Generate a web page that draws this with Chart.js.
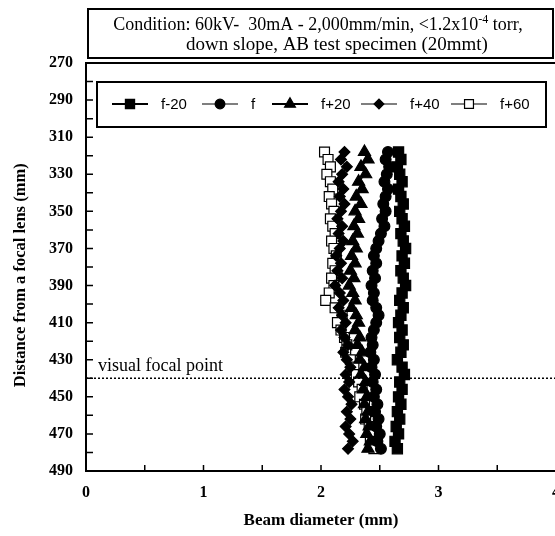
<!DOCTYPE html>
<html>
<head>
<meta charset="utf-8">
<script src="https://cdn.jsdelivr.net/npm/chart.js@4.4.0/dist/chart.umd.min.js"></script>
<style>
  html, body { margin: 0; padding: 0; background: #fff; overflow: hidden; width: 555px; height: 536px; }
  canvas { display: block; }
</style>
</head>
<body>
<canvas id="beam" width="566" height="536"></canvas>
<script>
// ── Data ────────────────────────────────────────────────────────────────────
const DEPTH_MM = [318, 322, 326, 330, 334, 338, 342, 346, 350, 354, 358, 362, 366, 370,
  374, 378, 382, 386, 390, 394, 398, 402, 406, 410, 414, 418, 422, 426, 430, 434, 438,
  442, 446, 450, 454, 458, 462, 466, 470, 474, 478];

const F_MINUS_20 = [2.66, 2.68, 2.65, 2.67, 2.69, 2.66, 2.68, 2.70, 2.67, 2.69, 2.71, 2.68,
  2.70, 2.72, 2.69, 2.71, 2.68, 2.70, 2.72, 2.69, 2.67, 2.70, 2.68, 2.66, 2.69, 2.67, 2.70,
  2.68, 2.65, 2.69, 2.71, 2.67, 2.69, 2.66, 2.68, 2.65, 2.67, 2.64, 2.66, 2.63, 2.65];
const F_ZERO = [2.57, 2.55, 2.58, 2.56, 2.54, 2.57, 2.55, 2.53, 2.55, 2.52, 2.54, 2.51,
  2.49, 2.47, 2.45, 2.47, 2.44, 2.46, 2.43, 2.45, 2.44, 2.47, 2.49, 2.47, 2.45, 2.43, 2.44,
  2.42, 2.45, 2.43, 2.46, 2.44, 2.47, 2.45, 2.48, 2.46, 2.49, 2.47, 2.50, 2.48, 2.51];
const F_PLUS_20 = [2.37, 2.40, 2.34, 2.38, 2.32, 2.35, 2.30, 2.34, 2.29, 2.32, 2.28, 2.31,
  2.27, 2.30, 2.26, 2.29, 2.25, 2.28, 2.24, 2.27, 2.29, 2.26, 2.30, 2.32, 2.29, 2.33, 2.31,
  2.35, 2.33, 2.37, 2.34, 2.38, 2.36, 2.39, 2.37, 2.40, 2.38, 2.41, 2.39, 2.42, 2.40];
const F_PLUS_40 = [2.20, 2.17, 2.22, 2.18, 2.15, 2.19, 2.16, 2.20, 2.17, 2.14, 2.18, 2.15,
  2.19, 2.16, 2.13, 2.17, 2.14, 2.18, 2.12, 2.16, 2.19, 2.15, 2.18, 2.21, 2.17, 2.20, 2.23,
  2.19, 2.22, 2.25, 2.21, 2.24, 2.20, 2.23, 2.26, 2.22, 2.25, 2.21, 2.24, 2.27, 2.23];
const F_PLUS_60 = [2.03, 2.06, 2.08, 2.05, 2.08, 2.10, 2.07, 2.09, 2.11, 2.08, 2.10, 2.12,
  2.09, 2.11, 2.13, 2.10, 2.12, 2.09, 2.11, 2.07, 2.04, 2.12, 2.18, 2.14, 2.17, 2.20, 2.22,
  2.21, 2.25, 2.28, 2.30, 2.32, 2.35, 2.33, 2.37, 2.39, 2.38, 2.41, 2.43, 2.42, 2.45];

const SERIES_LABELS = ["f-20", "f", "f+20", "f+40", "f+60"];
const FOCAL_POINT_MM = 440;
const Y_MIN = 270, Y_MAX = 490, Y_LABEL_STEP = 20, Y_MINOR_STEP = 10;
const X_MIN = 0, X_MAX = 4, X_LABEL_STEP = 1, X_MINOR_STEP = 0.5;
const TITLE_LINE_1 = ["Condition: 60kV-\u00a0\u00a030mA - 2,000mm/min, <1.2x10", "-4", " torr,"];
const TITLE_LINE_2 = "down slope, AB test specimen (20mmt)";

// ── Marker styles, one per series ───────────────────────────────────────────
const MARKERS = [
  { pointStyle: "rect",     radius: 7.2, fill: "#000" },
  { pointStyle: "circle",   radius: 5.4, fill: "#000" },
  { pointStyle: "triangle", radius: 7.0, fill: "#000" },
  { pointStyle: "rectRot",  radius: 5.4, fill: "#000" },
  { pointStyle: "rect",     radius: 7.0, fill: "#fff" },
];

const SERF = '"Liberation Serif", "Times New Roman", serif';

function toPoints(values) {
  return values.map((v, i) => ({ x: v, y: DEPTH_MM[i] }));
}

const seriesValues = [F_MINUS_20, F_ZERO, F_PLUS_20, F_PLUS_40, F_PLUS_60];
const datasets = seriesValues.map((vals, i) => ({
  label: SERIES_LABELS[i],
  data: toPoints(vals),
  showLine: true,
  borderColor: "#000",
  borderWidth: 1.2,
  pointStyle: MARKERS[i].pointStyle,
  pointRadius: MARKERS[i].radius,
  pointBackgroundColor: MARKERS[i].fill,
  pointBorderColor: "#000",
  pointBorderWidth: 1.2,
}));

// ── Legend markers use the same shapes as the data ──────────────────────────
function drawMarker(ctx, m, x, y, r) {
  ctx.save();
  ctx.fillStyle = m.fill;
  ctx.strokeStyle = "#000";
  ctx.lineWidth = 1.2;
  if (Chart.helpers && Chart.helpers.drawPoint) {
    Chart.helpers.drawPoint(ctx, { pointStyle: m.pointStyle, radius: r, rotation: 0, borderWidth: 1.2 }, x, y);
  }
  ctx.restore();
}

// ── Plugin: frame, inward ticks, focal line, title box, legend box ─────────
const decorations = {
  id: "decorations",
  afterDatasetsDraw(chart) {
    const { ctx, chartArea: a, scales } = chart;
    const xs = scales.x, ys = scales.y;
    ctx.save();

    // frame
    ctx.strokeStyle = "#000";
    ctx.lineWidth = 2;
    ctx.strokeRect(a.left, a.top, a.right - a.left, a.bottom - a.top);

    // inward ticks
    ctx.lineWidth = 1.5;
    ctx.beginPath();
    for (let v = Y_MIN; v <= Y_MAX; v += Y_MINOR_STEP) {
      const py = ys.getPixelForValue(v);
      ctx.moveTo(a.left, py); ctx.lineTo(a.left + 7, py);
    }
    for (let v = X_MIN; v <= X_MAX; v += X_MINOR_STEP) {
      const px = xs.getPixelForValue(v);
      ctx.moveTo(px, a.bottom); ctx.lineTo(px, a.bottom - 6);
    }
    ctx.stroke();

    // visual focal point
    const fy = ys.getPixelForValue(FOCAL_POINT_MM);
    ctx.lineWidth = 1.5;
    ctx.setLineDash([2, 2]);
    ctx.beginPath();
    ctx.moveTo(a.left, fy); ctx.lineTo(a.right, fy);
    ctx.stroke();
    ctx.setLineDash([]);
    ctx.fillStyle = "#000";
    ctx.font = "18px " + SERF;
    ctx.textBaseline = "alphabetic";
    ctx.textAlign = "left";
    ctx.fillText("visual focal point", a.left + 12, fy - 7);

    // title box above the plot
    ctx.lineWidth = 2;
    ctx.strokeRect(a.left + 2, 9, 465, 49);
    const mainFont = "18px " + SERF, supFont = "12px " + SERF;
    ctx.font = mainFont;
    const w0 = ctx.measureText(TITLE_LINE_1[0]).width;
    const w2 = ctx.measureText(TITLE_LINE_1[2]).width;
    ctx.font = supFont;
    const w1 = ctx.measureText(TITLE_LINE_1[1]).width;
    const tx = a.left + 232 - (w0 + w1 + w2) / 2;
    ctx.font = mainFont;
    ctx.fillText(TITLE_LINE_1[0], tx, 30);
    ctx.font = supFont;
    ctx.fillText(TITLE_LINE_1[1], tx + w0, 23);
    ctx.font = mainFont;
    ctx.fillText(TITLE_LINE_1[2], tx + w0 + w1, 30);
    ctx.textAlign = "center";
    ctx.font = "19px " + SERF;
    ctx.fillText(TITLE_LINE_2, a.left + 251, 50);

    // legend box inside the plot
    const lx = a.left + 11, ly = a.top + 19;
    ctx.fillStyle = "#fff";
    ctx.fillRect(lx, ly, 449, 45);
    ctx.lineWidth = 2;
    ctx.strokeRect(lx, ly, 449, 45);
    const centres = [44, 134, 204, 293, 383];
    const my = ly + 22;
    ctx.font = '15px "Liberation Sans", Arial, sans-serif';
    ctx.textAlign = "left";
    ctx.textBaseline = "middle";
    SERIES_LABELS.forEach((lab, i) => {
      const cx = a.left + centres[i];
      ctx.strokeStyle = "#000";
      ctx.lineWidth = i === 0 || i === 2 ? 2 : 1.2;
      ctx.beginPath();
      ctx.moveTo(cx - 18, my); ctx.lineTo(cx + 18, my);
      ctx.stroke();
      drawMarker(ctx, MARKERS[i], cx, my, MARKERS[i].radius * 0.9);
      ctx.fillStyle = "#000";
      ctx.fillText(lab, cx + 31, my + 1);
    });

    ctx.restore();
  },
};

new Chart(document.getElementById("beam"), {
  type: "scatter",
  data: { datasets },
  plugins: [decorations],
  options: {
    responsive: false,
    animation: false,
    devicePixelRatio: 1,
    layout: { padding: { top: 63, right: 10, left: 0, bottom: 0 } },
    plugins: { legend: { display: false }, tooltip: { enabled: false } },
    scales: {
      x: {
        type: "linear",
        min: X_MIN, max: X_MAX,
        grid: { display: false, drawTicks: false },
        border: { display: false },
        ticks: { stepSize: X_LABEL_STEP, color: "#000", padding: 12,
                 font: { family: SERF, size: 16, weight: "bold" } },
        title: { display: true, text: "Beam diameter (mm)", color: "#000",
                 padding: { top: 4, bottom: 5 },
                 font: { family: SERF, size: 17, weight: "bold" } },
        afterFit(scale) {
          scale.height = 65;
          scale.paddingLeft = 0;
          scale.paddingRight = 0;
        },
      },
      y: {
        type: "linear",
        reverse: true,
        min: Y_MIN, max: Y_MAX,
        grid: { display: false, drawTicks: false },
        border: { display: false },
        ticks: { stepSize: Y_LABEL_STEP, color: "#000", padding: 13,
                 font: { family: SERF, size: 16, weight: "bold" } },
        title: { display: true, text: "Distance from a focal lens (mm)\u00a0\u00a0\u00a0\u00a0", color: "#000",
                 padding: { top: 11, bottom: 4 },
                 font: { family: SERF, size: 16.5, weight: "bold" } },
        afterFit(scale) {
          scale.width = 86;
          scale.paddingTop = 0;
          scale.paddingBottom = 0;
        },
      },
    },
  },
});
</script>
</body>
</html>
